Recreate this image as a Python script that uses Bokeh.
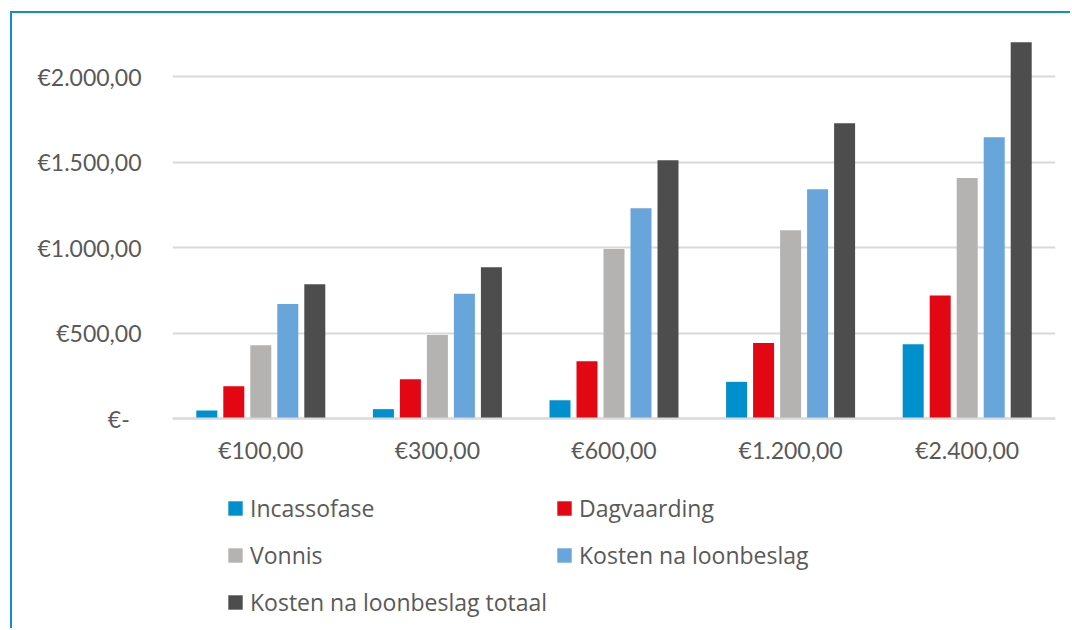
from bokeh.plotting import figure
from bokeh.models import ColumnDataSource, FactorRange, Range1d, FixedTicker, Legend, LegendItem
from bokeh.transform import dodge
from bokeh.embed import file_html
from bokeh.resources import INLINE

categories = ["€100,00", "€300,00", "€600,00", "€1.200,00", "€2.400,00"]
incassofase = [47, 55, 107, 215, 435]
dagvaarding = [189, 230, 335, 443, 720]
vonnis = [429, 489, 993, 1103, 1409]
kosten_loonbeslag = [670, 731, 1232, 1342, 1647]
kosten_totaal = [786, 886, 1513, 1729, 2203]

series_names = ["Incassofase", "Dagvaarding", "Vonnis", "Kosten na loonbeslag", "Kosten na loonbeslag totaal"]
series_keys = ["incasso", "dag", "vonnis", "kosten", "totaal"]
colors = ["#0090CD", "#E30613", "#B4B3B1", "#68A5DA", "#4D4D4D"]
y_ticks = [0, 500, 1000, 1500, 2000]
y_tick_labels = ["€-\u00a0\u00a0", "€500,00", "€1.000,00", "€1.500,00", "€2.000,00"]

source = ColumnDataSource(data=dict(
    cat=categories, incasso=incassofase, dag=dagvaarding, vonnis=vonnis,
    kosten=kosten_loonbeslag, totaal=kosten_totaal))

FONT = "Lato"
LEG_FONT = "Open Sans"
TXT = "#595959"

p = figure(x_range=FactorRange(*categories), y_range=Range1d(-1241, 2313),
           width=1060, height=617, output_backend="svg", toolbar_location=None,
           min_border_left=160, min_border_right=17, min_border_top=10, min_border_bottom=0)
p.styles = {"border-top": "2px solid #0E8FCE", "border-left": "2px solid #0E8FCE",
            "position": "relative", "left": "10px", "top": "11px"}
p.outline_line_color = None
p.background_fill_color = "white"
p.border_fill_color = "white"

bar_w = 21 / 176.6
pitch = 27 / 176.6
renderers = []
for i, (key, col) in enumerate(zip(series_keys, colors)):
    r = p.vbar(x=dodge("cat", (i - 2) * pitch, range=p.x_range), top=key, width=bar_w,
               source=source, fill_color=col, line_color=None)
    renderers.append(r)

p.xgrid.grid_line_color = None
p.ygrid.grid_line_color = "#D9D9D9"
p.ygrid.grid_line_width = 2
p.yaxis.ticker = FixedTicker(ticks=y_ticks)
p.yaxis.major_label_overrides = dict(zip(y_ticks, y_tick_labels))
p.yaxis.axis_line_color = None
p.yaxis.major_tick_line_color = None
p.yaxis.minor_tick_line_color = None
p.yaxis.major_tick_in = 0
p.yaxis.major_tick_out = 0
p.yaxis.major_label_standoff = 31
p.yaxis.major_label_text_font = FONT
p.yaxis.major_label_text_font_size = "23px"
p.yaxis.major_label_text_color = TXT

p.xaxis.fixed_location = 0
p.xaxis.axis_line_color = "#D9D9D9"
p.xaxis.axis_line_width = 2
p.xaxis.major_tick_line_color = None
p.xaxis.minor_tick_line_color = None
p.xaxis.major_tick_in = 0
p.xaxis.major_tick_out = 0
p.xaxis.major_label_standoff = 17
p.xaxis.major_label_text_font = FONT
p.xaxis.major_label_text_font_size = "23px"
p.xaxis.major_label_text_color = TXT

def make_legend(idx, x, y):
    items = [LegendItem(label=series_names[i], renderers=[renderers[i]]) for i in idx]
    lg = Legend(items=items, location=(x, y), orientation="vertical",
                padding=0, margin=0, spacing=15, glyph_width=18, glyph_height=18,
                label_height=32, label_standoff=6, border_line_color=None,
                background_fill_alpha=0, label_text_font=LEG_FONT,
                label_text_font_size="23px", label_text_color=TXT)
    return lg

p.add_layout(make_legend([0, 2, 4], 54, 12), "center")
p.add_layout(make_legend([1, 3], 383, 59), "center")

open("out.html", "w").write(file_html(p, INLINE))
